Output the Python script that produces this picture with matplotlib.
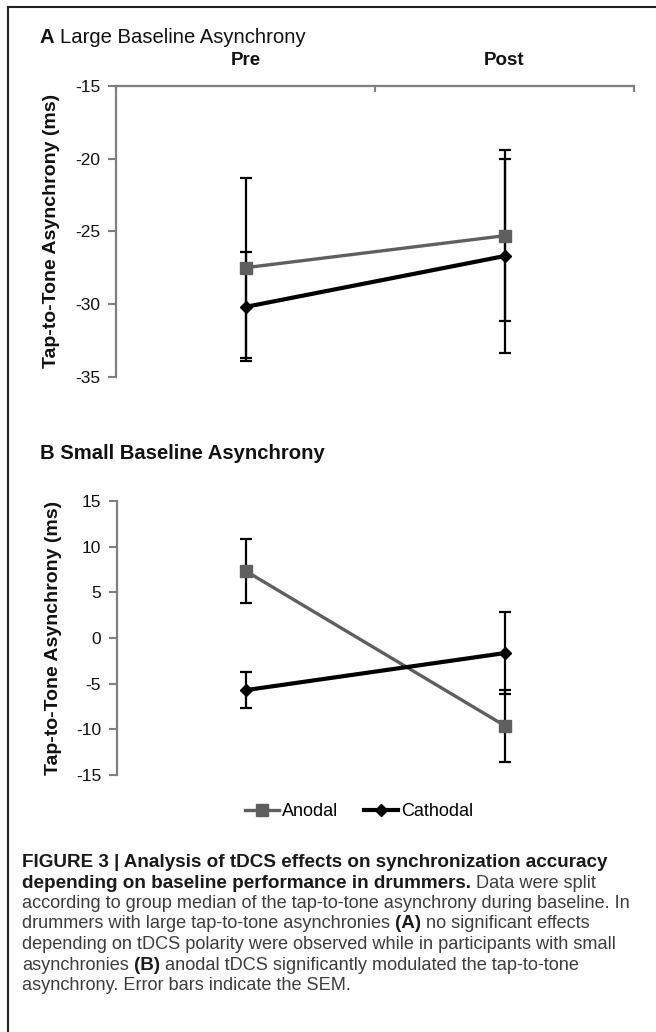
import matplotlib
matplotlib.use("Agg")
import matplotlib.pyplot as plt
from matplotlib import font_manager
from matplotlib.lines import Line2D

W, H = 656, 1032

# ── data ──────────────────────────────────────────────────────────────────
sessions = ["Pre", "Post"]

a_anodal = [-27.5, -25.3]
a_anodal_sem = [6.2, 5.9]
a_cathodal = [-30.2, -26.7]
a_cathodal_sem = [3.75, 6.7]

b_anodal = [7.3, -9.6]
b_anodal_sem = [3.5, 3.95]
b_cathodal = [-5.7, -1.65]
b_cathodal_sem = [1.95, 4.45]

a_yticks = [-35, -30, -25, -20, -15]
b_yticks = [-15, -10, -5, 0, 5, 10, 15]

plt.rcParams["axes.unicode_minus"] = False
names = {f.name for f in font_manager.fontManager.ttflist}
NARROW = "Liberation Sans Narrow" if "Liberation Sans Narrow" in names else "Liberation Sans"
SANS = "Liberation Sans"
plt.rcParams["font.family"] = [SANS, "DejaVu Sans"]

GRAY_AX = "#7f7f7f"
ANODAL_C = "#5f5f5f"

fig = plt.figure(figsize=(W / 100, H / 100), dpi=100)
renderer = fig.canvas.get_renderer()


def fx(px):
    return px / W


def fy(py):
    return 1 - py / H


def text_w(s, size, weight, family):
    t = fig.text(0, 0, s, fontsize=size, weight=weight, family=family)
    w = t.get_window_extent(renderer).width
    t.remove()
    return w


def width_size(s, width_px, weight, family):
    """Font size (pt) that makes s exactly width_px wide."""
    return 10 * width_px / text_w(s, 10, weight, family)


def draw_segments(x, baseline, segments, size_bold, size_reg, family_bold,
                  family_reg, c_bold="#1a1a1a", c_reg="#3c3c3c"):
    """Draw a line of mixed bold/regular runs starting at pixel x."""
    sp = {
        "bold": text_w("x x", size_bold, "bold", family_bold)
        - text_w("xx", size_bold, "bold", family_bold),
        "normal": text_w("x x", size_reg, "normal", family_reg)
        - text_w("xx", size_reg, "normal", family_reg),
    }
    for s, bold in segments:
        wt = "bold" if bold else "normal"
        fam = family_bold if bold else family_reg
        size = size_bold if bold else size_reg
        lead = len(s) - len(s.lstrip(" "))
        x += lead * sp[wt]
        core = s.strip(" ")
        t = fig.text(fx(x), fy(baseline), core, fontsize=size, weight=wt,
                     family=fam, color=c_bold if bold else c_reg,
                     va="baseline", ha="left")
        x += t.get_window_extent(renderer).width
        trail = len(s) - len(s.rstrip(" "))
        x += trail * sp[wt]


def style_axis(ax, yticks, label):
    for side in ("right", "bottom"):
        ax.spines[side].set_visible(False)
    ax.spines["left"].set_color(GRAY_AX)
    ax.spines["left"].set_linewidth(1.6)
    ax.set_yticks(yticks)
    ax.set_yticklabels([str(v) for v in yticks])
    ax.tick_params(axis="y", direction="out", length=5.5, width=1.5,
                   color=GRAY_AX, labelsize=12.5, pad=6, labelcolor="#111111")
    ax.set_ylabel(label, fontsize=14, weight="bold", va="center", color="#111111")
    ax.yaxis.set_label_coords((52 - 116) / 518, 0.5)
    ax.set_xlim(0, 2)


def draw_series(ax, anod, anod_sem, cath, cath_sem):
    xs = [0.5, 1.5]
    ax.errorbar(xs, anod, yerr=anod_sem, fmt="none", ecolor="black",
                elinewidth=1.6, capsize=4.5, capthick=1.6, zorder=2, clip_on=False)
    ax.errorbar(xs, cath, yerr=cath_sem, fmt="none", ecolor="black",
                elinewidth=1.6, capsize=4.5, capthick=1.6, zorder=2, clip_on=False)
    la, = ax.plot(xs, anod, color=ANODAL_C, lw=2.4, marker="s", ms=8.5,
                  label="Anodal", zorder=3, clip_on=False)
    lc, = ax.plot(xs, cath, color="black", lw=3.0, marker="D", ms=6.5,
                  label="Cathodal", zorder=4, clip_on=False)
    return la, lc


# ── panel A ───────────────────────────────────────────────────────────────
axA = fig.add_axes([fx(116), fy(376.7), 518 / W, (376.7 - 86) / H])
axA.set_ylim(-35, -15)
style_axis(axA, a_yticks, "Tap-to-Tone Asynchrony (ms)")
axA.spines["top"].set_color(GRAY_AX)
axA.spines["top"].set_linewidth(1.6)
axA.xaxis.tick_top()
axA.set_xticks([0, 1, 2])
axA.set_xticklabels([])
axA.set_xticks([0.5, 1.5], minor=True)
axA.set_xticklabels(sessions, minor=True)
axA.tick_params(axis="x", which="major", direction="in", length=4.5,
                width=1.5, color=GRAY_AX)
axA.tick_params(axis="x", which="minor", length=0, pad=12)
for lab in axA.get_xticklabels(minor=True):
    lab.set_fontsize(13.5)
    lab.set_family(NARROW)
    lab.set_weight("bold")
    lab.set_color("#111111")
draw_series(axA, a_anodal, a_anodal_sem, a_cathodal, a_cathodal_sem)

# ── panel B ───────────────────────────────────────────────────────────────
axB = fig.add_axes([fx(117), fy(775), 517 / W, (775 - 501) / H])
axB.set_ylim(-15, 15)
style_axis(axB, b_yticks, "Tap-to-Tone Asynchrony (ms)")
axB.spines["top"].set_visible(False)
axB.set_xticks([])
la, lc = draw_series(axB, b_anodal, b_anodal_sem, b_cathodal, b_cathodal_sem)

fig.legend(handles=[la, lc], loc="center", bbox_to_anchor=(fx(359), fy(812)),
           ncol=2, frameon=False, fontsize=13, handlelength=1.9,
           handletextpad=0.15, columnspacing=1.4)

# ── panel titles ──────────────────────────────────────────────────────────
ta_size = width_size("A Large Baseline Asynchrony", 264, "normal", NARROW)
draw_segments(40, 42.7, [("A ", True), ("Large Baseline Asynchrony", False)],
              ta_size, ta_size, SANS, NARROW, c_bold="#111111", c_reg="#111111")
tb_size = 14.6
draw_segments(40, 459, [("B Small Baseline Asynchrony", True)],
              tb_size, tb_size, SANS, SANS, c_bold="#111111", c_reg="#111111")

# ── caption ───────────────────────────────────────────────────────────────
caption = [
    [("FIGURE 3 | Analysis of tDCS effects on synchronization accuracy", True)],
    [("depending on baseline performance in drummers.", True), (" Data were split", False)],
    [("according to group median of the tap-to-tone asynchrony during baseline. In", False)],
    [("drummers with large tap-to-tone asynchronies ", False), ("(A)", True),
     (" no significant effects", False)],
    [("depending on tDCS polarity were observed while in participants with small", False)],
    [("asynchronies ", False), ("(B)", True),
     (" anodal tDCS significantly modulated the tap-to-tone", False)],
    [("asynchrony. Error bars indicate the SEM.", False)],
]
cap_reg = width_size(caption[2][0][0], 612, "normal", NARROW)
cap_bold = width_size(caption[0][0][0], 584, "bold", NARROW)
for i, segs in enumerate(caption):
    draw_segments(22, 867 + i * 20.5, segs, cap_bold, cap_reg, NARROW, NARROW)

# ── frame ─────────────────────────────────────────────────────────────────
fig.add_artist(Line2D([fx(8), 1], [fy(7), fy(7)], transform=fig.transFigure,
                      color="#222222", lw=1.5))
fig.add_artist(Line2D([fx(8), fx(8)], [fy(7), 0], transform=fig.transFigure,
                      color="#222222", lw=1.5))

fig.savefig("out.png", dpi=100)
